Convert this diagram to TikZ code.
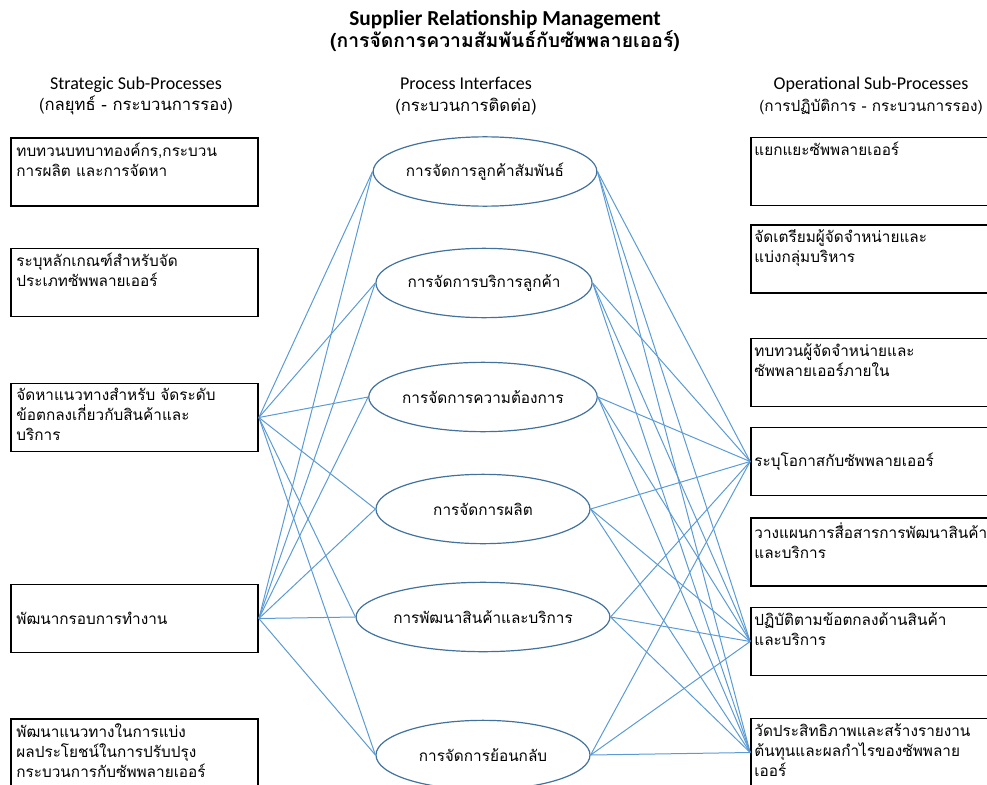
\documentclass[tikz,border=0pt]{standalone}
\usepackage{fontspec}
\setmainfont{Carlito}
\newfontfamily\thai[Script=Thai]{Loma}
\usetikzlibrary{shapes.geometric}
\definecolor{linkblue}{RGB}{91,155,213}
\definecolor{ellblue}{RGB}{65,113,156}
\begin{document}
\begin{tikzpicture}[x=0.75pt,y=-0.75pt,
  lbox/.style={draw=black,line width=1.3pt,rectangle,minimum width=185.25pt,minimum height=51pt,inner sep=0pt},
  rbox/.style={draw=black,line width=1.3pt,rectangle,minimum width=186.75pt,minimum height=51pt,inner sep=0pt},
  ell/.style={draw=ellblue,line width=0.9pt,ellipse,minimum width=160.5pt,minimum height=52pt,inner sep=0pt,font=\thai\fontsize{11.5}{13}\selectfont},
  btext/.style={anchor=north west,align=left,inner sep=0pt,font=\thai\fontsize{11.5}{15}\selectfont},
  head/.style={align=center,inner sep=0pt,font=\fontsize{13.5}{16}\selectfont},
  link/.style={draw=linkblue,line width=0.75pt}]
\clip (0,0) rectangle (987,784);
% title
\node[align=center,inner sep=0pt] (title) at (505,31)
  {{\fontsize{16}{19}\selectfont\bfseries Supplier Relationship Management}\\[0pt]
   {\thai\fontsize{14.5}{17}\selectfont\bfseries (การจัดการความสัมพันธ์กับซัพพลายเออร์)}};
% headers
\node[head] (hl) at (136,96) {Strategic Sub-Processes\\{\thai\fontsize{12.5}{16}\selectfont (กลยุทธ์ - กระบวนการรอง)}};
\node[head] (hm) at (466,96) {Process Interfaces\\{\thai\fontsize{12.5}{16}\selectfont (กระบวนการติดต่อ)}};
\node[head] (hr) at (871,96) {Operational Sub-Processes\\{\thai\fontsize{11.5}{16}\selectfont (การปฏิบัติการ - กระบวนการรอง)}};
% left boxes
\node[lbox] (l1) at (134.5,172) {};
\node[lbox] (l2) at (134.5,282.5) {};
\node[lbox] (l3) at (134.5,417.5) {};
\node[lbox] (l4) at (134.5,618.5) {};
\node[lbox] (l5) at (134.5,753) {};
\node[btext] (l1t) at ([xshift=4.5pt,yshift=-4pt]l1.north west) {ทบทวนบทบาทองค์กร,กระบวน\\การผลิต และการจัดหา};
\node[btext] (l2t) at ([xshift=4.5pt,yshift=-4pt]l2.north west) {ระบุหลักเกณฑ์สำหรับจัด\\ประเภทซัพพลายเออร์};
\node[btext] (l3t) at ([xshift=4.5pt,yshift=-4pt]l3.north west) {จัดหาแนวทางสำหรับ จัดระดับ\\ข้อตกลงเกี่ยวกับสินค้าและ\\บริการ};
\node[btext,anchor=west] (l4t) at ([xshift=4.5pt]l4.west) {พัฒนากรอบการทำงาน};
\node[btext] (l5t) at ([xshift=4.5pt,yshift=-4pt]l5.north west) {พัฒนาแนวทางในการแบ่ง\\ผลประโยชน์ในการปรับปรุง\\กระบวนการกับซัพพลายเออร์};
% ellipses
\node[ell] (e1) at (485,171.5) {การจัดการลูกค้าสัมพันธ์};
\node[ell] (e2) at (484,283) {การจัดการบริการลูกค้า};
\node[ell] (e3) at (483,397) {การจัดการความต้องการ};
\node[ell] (e4) at (483,509) {การจัดการผลิต};
\node[ell] (e5) at (483,617) {การพัฒนาสินค้าและบริการ};
\node[ell] (e6) at (483,755) {การจัดการย้อนกลับ};
% right boxes
\node[rbox] (r1) at (875.5,171.5) {};
\node[rbox] (r2) at (875.5,259) {};
\node[rbox] (r3) at (875.5,372.5) {};
\node[rbox] (r4) at (875.5,461.5) {};
\node[rbox] (r5) at (875.5,552) {};
\node[rbox] (r6) at (875.5,641.5) {};
\node[rbox] (r7) at (875.5,752.5) {};
\node[btext] (r1t) at ([xshift=3pt,yshift=-4pt]r1.north west) {แยกแยะซัพพลายเออร์};
\node[btext] (r2t) at ([xshift=3pt,yshift=-4pt]r2.north west) {จัดเตรียมผู้จัดจำหน่ายและ\\แบ่งกลุ่มบริหาร};
\node[btext] (r3t) at ([xshift=3pt,yshift=-4pt]r3.north west) {ทบทวนผู้จัดจำหน่ายและ\\ซัพพลายเออร์ภายใน};
\node[btext,anchor=west] (r4t) at ([xshift=3pt]r4.west) {ระบุโอกาสกับซัพพลายเออร์};
\node[btext] (r5t) at ([xshift=3pt,yshift=-4pt]r5.north west) {วางแผนการสื่อสารการพัฒนาสินค้า\\และบริการ};
\node[btext] (r6t) at ([xshift=3pt,yshift=-4pt]r6.north west) {ปฏิบัติตามข้อตกลงด้านสินค้า\\และบริการ};
\node[btext] (r7t) at ([xshift=3pt,yshift=-4pt]r7.north west) {วัดประสิทธิภาพและสร้างรายงาน\\ต้นทุนและผลกำไรของซัพพลาย\\เออร์};
% connectors
\foreach \s in {l3,l4}{\foreach \e in {e1,e2,e3,e4,e5,e6}{\draw[link] (\s.east) -- (\e.west);}}
\foreach \e in {e1,e2,e3,e4,e5,e6}{\foreach \t in {r4,r6,r7}{\draw[link] (\e.east) -- (\t.west);}}
\end{tikzpicture}
\end{document}
